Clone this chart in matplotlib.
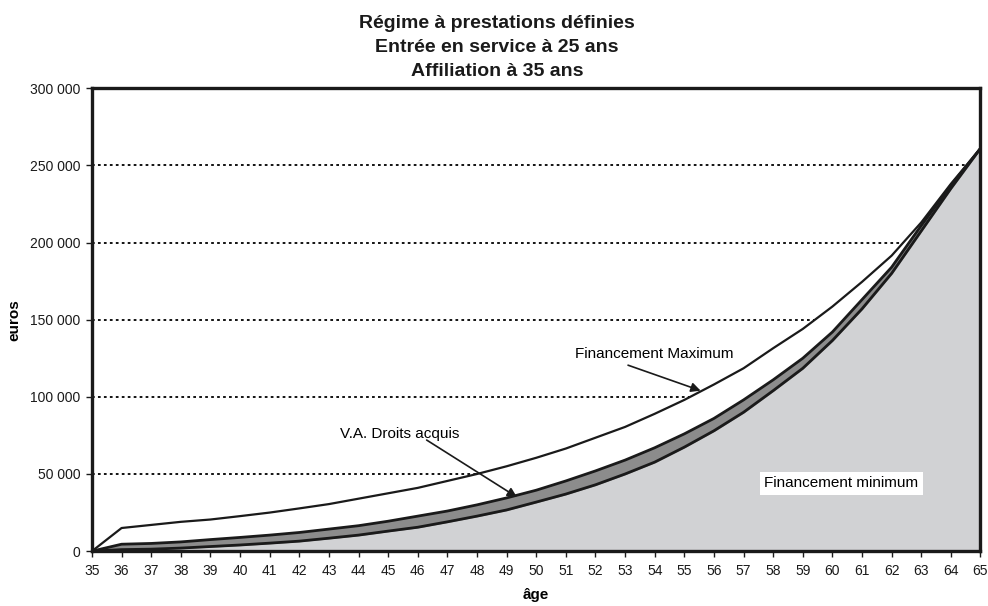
import numpy as np
import matplotlib
matplotlib.use("Agg")
import matplotlib.pyplot as plt
from matplotlib.ticker import FuncFormatter

plt.rcParams['font.family'] = ['Liberation Sans', 'DejaVu Sans']

# âge de l'affilié
ages = list(range(35, 66))

# financement maximum (euros)
fin_maximum = [0, 15000, 17000, 19000, 20500, 22700, 25000, 27700, 30500, 34000,
               37500, 41000, 45500, 50000, 55000, 60500, 66500, 73500, 80500, 89000,
               98000, 108000, 118500, 131500, 144000, 158500, 174500, 191500, 213000,
               238000, 261000]

# valeur actuelle des droits acquis (euros)
droits_acquis = [0, 4500, 5000, 6000, 7500, 8900, 10400, 12100, 14300, 16500,
                 19400, 22700, 26000, 30000, 34500, 39500, 45500, 52000, 59000, 67000,
                 76000, 86000, 98000, 111000, 125000, 142000, 163000, 184000, 211000,
                 237000, 261000]

# financement minimum (euros)
fin_minimum = [0, 1000, 1300, 2000, 3000, 4000, 5200, 6500, 8400, 10400,
               13000, 15500, 19000, 22700, 26700, 31800, 37000, 43000, 50000, 57700,
               67400, 78000, 90000, 104000, 118500, 136500, 157000, 180000, 207500,
               235000, 261000]

fig = plt.figure(figsize=(9.88, 6.06), dpi=100)
ax = fig.add_axes([0.0931, 0.0905, 0.8993, 0.764])

# grille pointillée
for yv in range(50000, 300000, 50000):
    ax.axhline(yv, color='black', lw=1.3, dashes=(1.5, 1.8), zorder=1)

ax.fill_between(ages, 0, fin_maximum, color='white', zorder=2)
ax.fill_between(ages, 0, fin_minimum, color='#d1d2d4', zorder=3)
ax.fill_between(ages, fin_minimum, droits_acquis, color='#8c8c8c', zorder=3)

ax.plot(ages, fin_maximum, color='#1a1a1a', lw=1.6, zorder=4)
ax.plot(ages, droits_acquis, color='#1a1a1a', lw=2.0, zorder=4)
ax.plot(ages, fin_minimum, color='#1a1a1a', lw=2.0, zorder=4)

ax.set_xlim(35, 65)
ax.set_ylim(0, 300000)
ax.set_xticks(ages)
ax.set_yticks(range(0, 300001, 50000))
ax.yaxis.set_major_formatter(FuncFormatter(lambda v, p: f"{int(v):,}".replace(",", " ")))
ax.tick_params(direction='out', length=4.5, width=1, labelsize=10, colors='#1a1a1a')
ax.tick_params(axis='x', pad=5)
ax.tick_params(axis='y', pad=4)

for s in ax.spines.values():
    s.set_linewidth(2.4)
    s.set_color('#1a1a1a')
    s.set_zorder(6)

ax.set_xlabel('âge', fontsize=11, fontweight='bold', labelpad=7)
ax.set_ylabel('euros', fontsize=11, fontweight='bold', labelpad=6)

fig.text(0.503, 0.976, "Régime à prestations définies\nEntrée en service à 25 ans\nAffiliation à 35 ans",
         ha='center', va='top', fontsize=14, fontweight='bold', linespacing=1.55, color='#1a1a1a')

arrow = dict(arrowstyle='-|>', color='#1a1a1a', lw=1.2, mutation_scale=14, shrinkA=0, shrinkB=0)
ax.text(54.0, 128000, 'Financement Maximum', fontsize=11, ha='center', va='center', zorder=7)
ax.annotate('', xy=(55.55, 104000), xytext=(53.1, 120500), arrowprops=arrow, zorder=7)
ax.text(45.4, 76000, 'V.A. Droits acquis', fontsize=11, ha='center', va='center', zorder=7)
ax.annotate('', xy=(49.35, 35000), xytext=(46.3, 72000), arrowprops=arrow, zorder=7)

ax.text(60.3, 44000, 'Financement minimum', fontsize=11, ha='center', va='center', zorder=7,
        bbox=dict(boxstyle='square,pad=0.3', fc='white', ec='none'))

fig.savefig('out.png', dpi=100)
